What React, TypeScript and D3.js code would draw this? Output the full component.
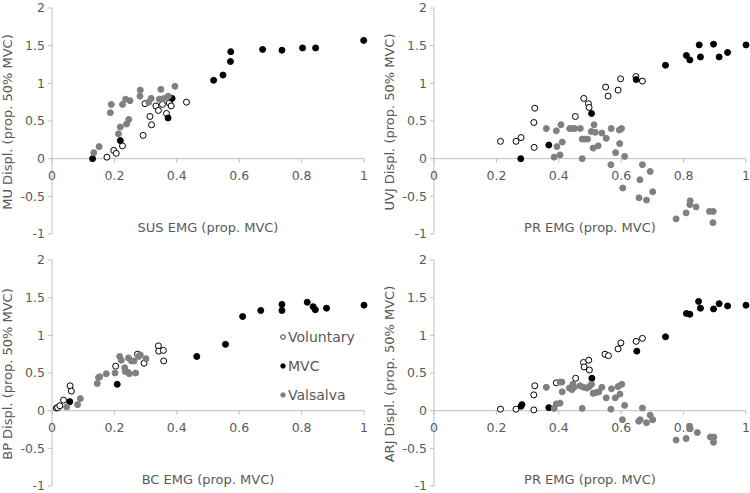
import * as d3 from 'd3';

type Pt = [number, number];

// ── Data (x = EMG prop. MVC, y = displacement prop. 50% MVC) ──────────────
const xTicks = [0, 0.2, 0.4, 0.6, 0.8, 1];
const yTicks = [-1, -0.5, 0, 0.5, 1, 1.5, 2];
const seriesNames = ['Voluntary', 'MVC', 'Valsalva'];

// MU vs SUS
const muVoluntary: Pt[] = [
  [0.176, 0.02], [0.198, 0.11], [0.206, 0.07], [0.226, 0.17], [0.292, 0.31],
  [0.298, 0.73], [0.314, 0.56], [0.319, 0.45], [0.333, 0.70], [0.341, 0.64],
  [0.354, 0.72], [0.367, 0.60], [0.376, 0.74], [0.382, 0.70], [0.431, 0.75],
];
const muMVC: Pt[] = [
  [0.130, 0.0], [0.219, 0.24], [0.372, 0.54], [0.385, 0.80], [0.518, 1.04],
  [0.548, 1.11], [0.572, 1.29], [0.573, 1.42], [0.675, 1.45], [0.737, 1.44],
  [0.803, 1.47], [0.845, 1.47], [0.999, 1.57],
];
const muValsalva: Pt[] = [
  [0.134, 0.08], [0.151, 0.16], [0.187, 0.61], [0.190, 0.72], [0.213, 0.33],
  [0.219, 0.42], [0.226, 0.72], [0.236, 0.79], [0.239, 0.46], [0.246, 0.52],
  [0.250, 0.77], [0.282, 0.83], [0.283, 0.91], [0.310, 0.75], [0.318, 0.80],
  [0.344, 0.79], [0.349, 0.92], [0.358, 0.80], [0.373, 0.83], [0.394, 0.96],
];

// UVJ vs PR
const uvjVoluntary: Pt[] = [
  [0.213, 0.23], [0.263, 0.23], [0.279, 0.28], [0.321, 0.15], [0.320, 0.48],
  [0.323, 0.67], [0.453, 0.56], [0.480, 0.80], [0.495, 0.73], [0.497, 0.68],
  [0.550, 0.95], [0.558, 0.83], [0.590, 0.91], [0.598, 1.06], [0.647, 1.09],
  [0.668, 1.03],
];
const uvjMVC: Pt[] = [
  [0.278, 0.0], [0.368, 0.18], [0.505, 0.60], [0.648, 1.05], [0.742, 1.24],
  [0.809, 1.37], [0.820, 1.31], [0.850, 1.51], [0.854, 1.35], [0.896, 1.52],
  [0.914, 1.35], [0.941, 1.41], [1.0, 1.51],
];
const uvjValsalva: Pt[] = [
  [0.360, 0.40], [0.392, 0.37], [0.407, 0.45], [0.411, 0.22], [0.394, 0.16],
  [0.385, 0.02], [0.404, 0.05], [0.435, 0.40], [0.443, 0.40], [0.451, 0.40],
  [0.469, 0.40], [0.475, 0.0], [0.475, 0.26], [0.482, 0.26], [0.492, 0.26],
  [0.504, 0.36], [0.513, 0.45], [0.517, 0.35], [0.510, 0.14], [0.526, 0.17],
  [0.538, 0.34], [0.552, 0.27], [0.568, 0.40], [0.567, -0.08], [0.582, 0.08],
  [0.594, 0.38], [0.601, 0.40], [0.595, 0.20], [0.611, 0.03], [0.605, -0.39],
  [0.657, -0.52], [0.660, -0.28], [0.668, -0.08], [0.681, -0.55], [0.693, -0.17],
  [0.701, -0.44], [0.776, -0.80], [0.808, -0.72], [0.820, -0.61], [0.821, -0.56],
  [0.840, -0.64], [0.883, -0.70], [0.895, -0.70], [0.894, -0.85],
];

// BP vs BC
const bpVoluntary: Pt[] = [
  [0.014, 0.035], [0.018, 0.04], [0.025, 0.065], [0.037, 0.14], [0.058, 0.33],
  [0.062, 0.26], [0.204, 0.59], [0.274, 0.75], [0.295, 0.63], [0.341, 0.86],
  [0.342, 0.79], [0.357, 0.80], [0.358, 0.66],
];
const bpMVC: Pt[] = [
  [0.057, 0.12], [0.209, 0.35], [0.464, 0.72], [0.556, 0.88], [0.611, 1.25],
  [0.669, 1.33], [0.737, 1.41], [0.737, 1.33], [0.818, 1.44], [0.837, 1.38],
  [0.844, 1.34], [0.880, 1.36], [1.0, 1.40],
];
const bpValsalva: Pt[] = [
  [0.047, 0.05], [0.082, 0.08], [0.091, 0.16], [0.145, 0.36], [0.149, 0.44],
  [0.153, 0.45], [0.174, 0.49], [0.202, 0.50], [0.217, 0.72], [0.222, 0.67],
  [0.233, 0.57], [0.235, 0.52], [0.243, 0.51], [0.248, 0.49], [0.245, 0.70],
  [0.255, 0.66], [0.263, 0.66], [0.268, 0.50], [0.278, 0.72], [0.283, 0.74],
  [0.301, 0.69],
];

// ARJ vs PR
const arjVoluntary: Pt[] = [
  [0.213, 0.02], [0.263, 0.02], [0.320, 0.01], [0.320, 0.21], [0.323, 0.33],
  [0.392, 0.37], [0.454, 0.43], [0.479, 0.64], [0.481, 0.58], [0.496, 0.67],
  [0.498, 0.54], [0.548, 0.75], [0.559, 0.73], [0.590, 0.82], [0.599, 0.90],
  [0.648, 0.92], [0.668, 0.96],
];
const arjMVC: Pt[] = [
  [0.279, 0.06], [0.282, 0.08], [0.368, 0.04], [0.506, 0.43], [0.650, 0.79],
  [0.742, 0.98], [0.809, 1.29], [0.820, 1.28], [0.848, 1.45], [0.854, 1.36],
  [0.896, 1.35], [0.914, 1.42], [0.941, 1.39], [1.0, 1.40],
];
const arjValsalva: Pt[] = [
  [0.360, 0.31], [0.385, 0.03], [0.392, 0.09], [0.404, 0.10], [0.411, 0.25],
  [0.404, 0.38], [0.410, 0.38], [0.434, 0.30], [0.442, 0.28], [0.449, 0.31],
  [0.445, 0.35], [0.468, 0.33], [0.475, 0.03], [0.479, 0.31], [0.490, 0.30],
  [0.498, 0.32], [0.505, 0.35], [0.510, 0.23], [0.519, 0.24], [0.528, 0.25],
  [0.538, 0.31], [0.552, 0.17], [0.567, 0.02], [0.569, 0.29], [0.581, 0.17],
  [0.590, 0.32], [0.596, 0.22], [0.602, 0.35], [0.604, -0.12], [0.611, 0.07],
  [0.656, -0.14], [0.661, -0.12], [0.668, 0.035], [0.681, -0.16], [0.693, -0.06],
  [0.701, -0.12], [0.776, -0.39], [0.808, -0.37], [0.819, -0.21], [0.821, -0.24],
  [0.844, -0.29], [0.886, -0.35], [0.897, -0.35], [0.896, -0.42],
];

const panels = [
  { xTitle: 'SUS EMG (prop. MVC)', yTitle: 'MU Displ. (prop. 50% MVC)', series: [muVoluntary, muMVC, muValsalva], left: 52, top: 8 },
  { xTitle: 'PR EMG (prop. MVC)', yTitle: 'UVJ Displ. (prop. 50% MVC)', series: [uvjVoluntary, uvjMVC, uvjValsalva], left: 434, top: 8 },
  { xTitle: 'BC EMG (prop. MVC)', yTitle: 'BP Displ. (prop. 50% MVC)', series: [bpVoluntary, bpMVC, bpValsalva], left: 52, top: 260, legend: true },
  { xTitle: 'PR EMG (prop. MVC)', yTitle: 'ARJ Displ. (prop. 50% MVC)', series: [arjVoluntary, arjMVC, arjValsalva], left: 434, top: 260 },
];

const plotW = 312;
const plotH = 226;
const FONT = "'DejaVu Sans', sans-serif";
const textColor = '#595959';
const axisColor = '#bfbfbf';
const markerStyles = [
  { fill: '#ffffff', stroke: '#000000' },
  { fill: '#000000', stroke: '#000000' },
  { fill: '#808080', stroke: '#808080' },
];

if (typeof document !== 'undefined') document.body.style.margin = '0';

function Panel({ p }: { p: typeof panels[number] }) {
  const x = d3.scaleLinear().domain([0, 1]).range([0, plotW]);
  const y = d3.scaleLinear().domain([-1, 2]).range([plotH, 0]);
  const fmt = (v: number) => String(v);
  return (
    <g transform={`translate(${p.left},${p.top})`} fontFamily={FONT}>
      {/* y axis */}
      <line x1={0} x2={0} y1={y(2)} y2={y(-1)} stroke={axisColor} />
      {yTicks.map(t => (
        <g key={t}>
          <line x1={-4} x2={0} y1={y(t)} y2={y(t)} stroke={axisColor} />
          <text x={-7} y={y(t)} dy="0.35em" textAnchor="end" fontSize={12.5} fill={textColor}>{fmt(t)}</text>
        </g>
      ))}
      {/* x axis at zero */}
      <line x1={0} x2={x(1)} y1={y(0)} y2={y(0)} stroke={axisColor} />
      {xTicks.map(t => (
        <g key={t}>
          <line x1={x(t)} x2={x(t)} y1={y(0)} y2={y(0) + 4} stroke={axisColor} />
          <text x={x(t)} y={y(0) + 17} dy="0.35em" textAnchor="middle" fontSize={12.5} fill={textColor}>{fmt(t)}</text>
        </g>
      ))}
      <text x={plotW / 2} y={219} dy="0.35em" textAnchor="middle" fontSize={13} fill={textColor}>{p.xTitle}</text>
      <text transform={`translate(-45,${plotH / 2 + 1}) rotate(-90)`} dy="0.35em" textAnchor="middle" fontSize={13} fill={textColor}>{p.yTitle}</text>
      {/* points */}
      {p.series.map((s, si) => (
        <g key={si}>
          {s.map((d, i) => (
            <circle key={i} cx={x(d[0])} cy={y(d[1])} r={3} fill={markerStyles[si].fill} stroke={markerStyles[si].stroke} strokeWidth={1} />
          ))}
        </g>
      ))}
      {p.legend && seriesNames.map((name, i) => (
        <g key={name} transform={`translate(${231},${77 + i * 29})`}>
          <circle cx={0} cy={0} r={2.3} fill={markerStyles[i].fill} stroke={markerStyles[i].stroke} strokeWidth={0.8} />
          <text x={5} y={0} dy="0.35em" fontSize={14} fill={textColor}>{name}</text>
        </g>
      ))}
    </g>
  );
}

export default function App() {
  return (
    <svg width={750} height={493} style={{ display: 'block', background: '#fff' }}>
      {panels.map((p, i) => <Panel key={i} p={p} />)}
    </svg>
  );
}
